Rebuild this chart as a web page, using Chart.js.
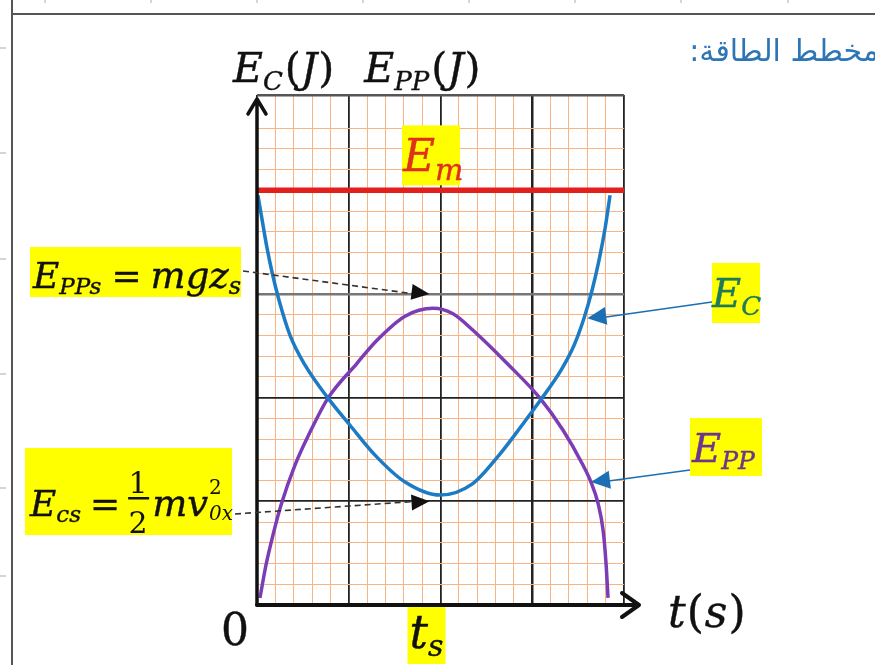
<!DOCTYPE html>
<html>
<head>
<meta charset="utf-8">
<script src="https://cdn.jsdelivr.net/npm/chart.js"></script>
<style>
  html, body { margin: 0; padding: 0; background: #fff; }
  #wrap { width: 875px; height: 665px; position: relative; }
</style>
</head>
<body>
<div id="wrap"><canvas id="energyChart" width="875" height="665"></canvas></div>
<script>
// time and energy both counted in small grid squares (5 squares per big division)
var ecTimes  = [0.05, 0.33, 0.54, 0.82, 1.20, 1.80, 2.62, 3.87, 5.07, 6.43, 8.07, 9.97, 11.72, 13.19, 14.44, 15.53, 16.57, 17.28, 17.82, 18.26, 18.64, 18.97, 19.24];
var ecValues = [19.76, 18.31, 17.25, 16.05, 14.70, 13.01, 11.57, 9.98, 8.67, 7.23, 5.93, 5.30, 5.83, 7.23, 8.67, 9.98, 11.33, 12.53, 13.83, 15.18, 16.63, 18.17, 19.76];

var eppTimes  = [0.16, 0.49, 0.87, 1.31, 2.07, 2.89, 3.87, 5.45, 6.54, 8.07, 9.59, 10.68, 11.77, 13.62, 15.42, 16.68, 17.71, 18.20, 18.58, 18.86, 19.02, 19.13];
var eppValues = [0.34, 1.93, 3.37, 4.82, 6.75, 8.34, 9.98, 11.66, 12.77, 13.93, 14.31, 14.05, 13.25, 11.66, 9.98, 8.43, 6.84, 5.93, 4.92, 3.61, 2.02, 0.34];

var emValue = 20;      // mechanical energy, constant
var tMax = 20;
var eMax = 24.6;
var tsValue = 9.4;     // where the two dashed arrows point
var eppsLevel = 15;    // E_PPs level
var ecsLevel = 5;      // E_cs level

function pts(xs, ys) {
  return xs.map(function (x, i) { return { x: x, y: ys[i] }; });
}

var SERIF = '"DejaVu Serif", "Liberation Serif", serif';

// draws a row of text pieces (main letters, subscripts, superscripts)
function richText(ctx, parts, x, y, color) {
  var cx = x;
  ctx.fillStyle = color;
  ctx.strokeStyle = color;
  ctx.lineWidth = 0.4;
  ctx.textAlign = 'left';
  ctx.textBaseline = 'alphabetic';
  parts.forEach(function (p) {
    ctx.font = (p.upright ? '' : 'italic ') + p.size + 'px ' + SERIF;
    cx += p.before || 0;
    ctx.fillText(p.t, cx, y + (p.dy || 0));
    ctx.strokeText(p.t, cx, y + (p.dy || 0));
    cx += ctx.measureText(p.t).width + (p.after || 0);
  });
  return cx;
}

function yellowBox(ctx, x, y, w, h) {
  ctx.fillStyle = '#ffff00';
  ctx.fillRect(x, y, w, h);
}

function arrowHead(ctx, tx, ty, fx, fy, len, half, color) {
  var a = Math.atan2(ty - fy, tx - fx);
  ctx.save();
  ctx.translate(tx, ty);
  ctx.rotate(a);
  ctx.fillStyle = color;
  ctx.beginPath();
  ctx.moveTo(0, 0);
  ctx.lineTo(-len, -half);
  ctx.lineTo(-len, half);
  ctx.closePath();
  ctx.fill();
  ctx.restore();
}

var decorations = {
  id: 'decorations',
  afterDraw: function (chart) {
    var ctx = chart.ctx;
    var xs = chart.scales.x, ys = chart.scales.y;
    var area = chart.chartArea;
    ctx.save();

    // page frame
    ctx.strokeStyle = '#555';
    ctx.lineWidth = 2;
    ctx.beginPath();
    ctx.moveTo(12, 14); ctx.lineTo(875, 14);
    ctx.moveTo(12, 0); ctx.lineTo(12, 665);
    ctx.stroke();
    ctx.strokeStyle = '#aaa';
    ctx.lineWidth = 1;
    ctx.beginPath();
    [45, 151, 257, 363, 469, 575, 681, 788].forEach(function (x) { ctx.moveTo(x, 0); ctx.lineTo(x, 3); });
    [48, 153, 259, 374, 488, 576].forEach(function (y) { ctx.moveTo(0, y); ctx.lineTo(6, y); });
    ctx.stroke();

    // axes with open arrow heads
    var x0 = xs.getPixelForValue(0), y0 = ys.getPixelForValue(0);
    ctx.strokeStyle = '#111';
    ctx.lineCap = 'round';
    ctx.lineJoin = 'round';
    ctx.lineWidth = 3.5;
    ctx.beginPath();
    ctx.moveTo(x0, y0); ctx.lineTo(x0, area.top + 4);
    ctx.moveTo(x0 - 9, area.top + 19); ctx.lineTo(x0, area.top + 4); ctx.lineTo(x0 + 9, area.top + 19);
    ctx.stroke();
    ctx.lineWidth = 4;
    ctx.beginPath();
    ctx.moveTo(x0, y0); ctx.lineTo(area.right + 15, y0);
    ctx.moveTo(area.right - 2, y0 - 12); ctx.lineTo(area.right + 15, y0); ctx.lineTo(area.right - 2, y0 + 12);
    ctx.stroke();
    ctx.lineCap = 'butt';

    // axis captions
    var c = richText(ctx, [{ t: 'E', size: 41 }, { t: 'C', size: 26, dy: 8, after: 2 }, { t: '(', size: 41, upright: true }, { t: 'J', size: 41, after: 1 }, { t: ')', size: 41, upright: true }], 233, 82, '#111');
    richText(ctx, [{ t: 'E', size: 41 }, { t: 'PP', size: 26, dy: 8, after: 2 }, { t: '(', size: 41, upright: true }, { t: 'J', size: 41, after: 1 }, { t: ')', size: 41, upright: true }], c + 30, 82, '#111');
    richText(ctx, [{ t: 't', size: 44, after: 1 }, { t: '(', size: 44, upright: true, after: 1 }, { t: 's', size: 44, after: 1 }, { t: ')', size: 44, upright: true }], 668, 627, '#111');
    richText(ctx, [{ t: '0', size: 44, upright: true }], 221, 645, '#111');

    // t_s under the time axis
    var tsx = xs.getPixelForValue(10);
    yellowBox(ctx, tsx - 33, y0 + 2, 38, 57);
    richText(ctx, [{ t: 't', size: 46 }, { t: 's', size: 30, dy: 8 }], tsx - 31, 648, '#111');

    // E_m label
    var emy = ys.getPixelForValue(emValue);
    yellowBox(ctx, 402, emy - 65, 58, 60);
    richText(ctx, [{ t: 'E', size: 44 }, { t: 'm', size: 30, dy: 9 }], 403, emy - 19, '#e0301e');

    // E_PPs = mgz_s and its dashed arrow
    yellowBox(ctx, 30, 247, 211, 50);
    richText(ctx, [{ t: 'E', size: 36 }, { t: 'PPs', size: 23, dy: 6, after: 10 }, { t: '=', size: 36, upright: true, after: 9 }, { t: 'mgz', size: 37 }, { t: 's', size: 24, dy: 6 }], 33, 288, '#111');
    var ax = xs.getPixelForValue(tsValue), ay = ys.getPixelForValue(eppsLevel);
    ctx.strokeStyle = '#333';
    ctx.lineWidth = 1.6;
    ctx.setLineDash([6, 4]);
    ctx.beginPath();
    ctx.moveTo(243, 271); ctx.lineTo(ax - 14, ay);
    ctx.stroke();
    ctx.setLineDash([]);
    arrowHead(ctx, ax, ay, 243, 271, 18, 8, '#111');

    // E_cs = 1/2 m v0x^2 and its dashed arrow
    yellowBox(ctx, 25, 448, 207, 87);
    var e = richText(ctx, [{ t: 'E', size: 36 }, { t: 'cs', size: 23, dy: 6, after: 9 }, { t: '=', size: 36, upright: true, after: 8 }], 30, 516, '#111');
    ctx.font = '30px ' + SERIF;
    ctx.textAlign = 'center';
    ctx.fillStyle = '#111';
    ctx.fillText('1', e + 10, 493);
    ctx.fillText('2', e + 10, 533);
    ctx.fillRect(e, 497, 21, 2.5);
    var m = richText(ctx, [{ t: 'mv', size: 37 }], e + 24, 516, '#111');
    ctx.font = '20px ' + SERIF;
    ctx.textAlign = 'left';
    ctx.fillText('2', m + 1, 494);
    ctx.font = 'italic 20px ' + SERIF;
    ctx.fillText('0x', m + 1, 520);
    var bx = xs.getPixelForValue(tsValue), by = ys.getPixelForValue(ecsLevel);
    ctx.strokeStyle = '#333';
    ctx.lineWidth = 1.6;
    ctx.setLineDash([6, 4]);
    ctx.beginPath();
    ctx.moveTo(235, 514); ctx.lineTo(bx - 14, by);
    ctx.stroke();
    ctx.setLineDash([]);
    arrowHead(ctx, bx, by, 235, 514, 18, 8, '#111');

    // curve labels with blue pointers
    yellowBox(ctx, 712, 263, 48, 60);
    richText(ctx, [{ t: 'E', size: 40 }, { t: 'C', size: 26, dy: 8 }], 712, 307, '#1f7a5c');
    var cx = xs.getPixelForValue(18.0), cy = ys.getPixelForValue(13.83);
    ctx.strokeStyle = '#1b6fb5';
    ctx.lineWidth = 1.6;
    ctx.beginPath();
    ctx.moveTo(712, 302); ctx.lineTo(cx + 10, cy);
    ctx.stroke();
    arrowHead(ctx, cx, cy, 712, 302, 19, 9, '#1b6fb5');

    yellowBox(ctx, 690, 418, 72, 58);
    richText(ctx, [{ t: 'E', size: 40 }, { t: 'PP', size: 25, dy: 7 }], 692, 462, '#6b3590');
    var px = xs.getPixelForValue(18.2), py = ys.getPixelForValue(5.93);
    ctx.strokeStyle = '#1b6fb5';
    ctx.lineWidth = 1.6;
    ctx.beginPath();
    ctx.moveTo(690, 470); ctx.lineTo(px + 10, py);
    ctx.stroke();
    arrowHead(ctx, px, py, 690, 470, 19, 9, '#1b6fb5');

    // section heading
    ctx.font = '30px "DejaVu Sans", "Noto Sans", sans-serif';
    ctx.fillStyle = '#2e75b6';
    ctx.direction = 'rtl';
    ctx.textAlign = 'right';
    ctx.fillText('مخطط الطاقة:', 879, 61);

    ctx.restore();
  }
};

function gridColor(isY) {
  return function (c) {
    var v = c.tick.value;
    if (isY && v === eMax) return '#555';
    if (isY && v === 15) return '#777';
    if (v % 5 === 0) return '#222';
    return '#f7b484';
  };
}
function gridWidth(c) {
  var v = c.tick.value;
  if (v === eMax || v === 15) return 2.5;
  return v % 5 === 0 ? 1.8 : 1;
}

new Chart('energyChart', {
  type: 'scatter',
  data: {
    datasets: [{
      label: 'Ec',
      data: pts(ecTimes, ecValues),
      showLine: true,
      borderColor: '#1b7bc4',
      borderWidth: 3.5,
      pointRadius: 0,
      cubicInterpolationMode: 'monotone'
    }, {
      label: 'Epp',
      data: pts(eppTimes, eppValues),
      showLine: true,
      borderColor: '#7b3cb5',
      borderWidth: 3.5,
      pointRadius: 0,
      cubicInterpolationMode: 'monotone'
    }, {
      label: 'Em',
      data: [{ x: 0, y: emValue }, { x: tMax, y: emValue }],
      showLine: true,
      borderColor: '#e3211c',
      borderWidth: 5.5,
      pointRadius: 0
    }]
  },
  options: {
    responsive: false,
    animation: false,
    devicePixelRatio: 1,
    layout: { padding: { left: 257, right: 251, top: 95, bottom: 60 } },
    plugins: { legend: { display: false }, tooltip: { enabled: false } },
    scales: {
      x: {
        type: 'linear', min: 0, max: tMax,
        ticks: { display: false, stepSize: 1 },
        grid: { color: gridColor(false), lineWidth: gridWidth, drawTicks: false },
        border: { display: false }
      },
      y: {
        type: 'linear', min: 0, max: eMax,
        ticks: { display: false, stepSize: 1 },
        grid: { color: gridColor(true), lineWidth: gridWidth, drawTicks: false },
        border: { display: false }
      }
    }
  },
  plugins: [decorations]
});
</script>
</body>
</html>
